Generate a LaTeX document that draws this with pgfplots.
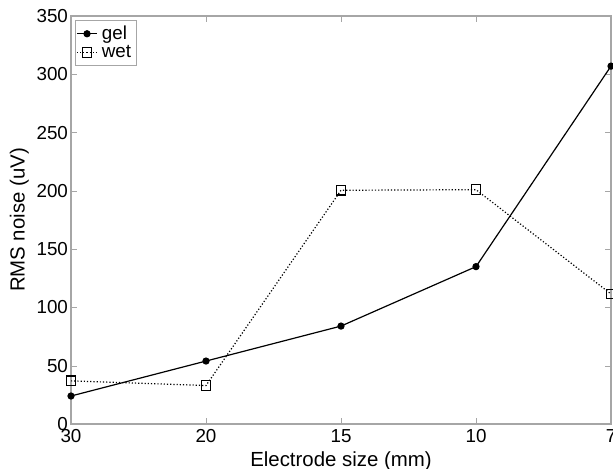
\documentclass[border=0pt]{standalone}
\usepackage{pgfplots}
\pgfplotsset{compat=1.18}
\usepackage{fontspec}
\setmainfont{Liberation Sans}
\begin{document}
\begin{tikzpicture}
\begin{axis}[
  scale only axis,
  width=270pt, height=204pt,
  xmin=0, xmax=4, ymin=0, ymax=350,
  xtick={0,1,2,3,4}, xticklabels={30,20,15,10,7},
  ytick={0,50,...,350},
  tick align=inside,
  major tick length=3pt,
  axis line style={gray!70, line width=0.6pt},
  tick style={gray!70},
  /pgf/number format/assume math mode=true,
  tick label style={font=\fontsize{9.4}{10}\selectfont},
  label style={font=\fontsize{10.2}{11}\selectfont},
  xlabel={Electrode size (mm)},
  ylabel={RMS noise (uV)},
  xlabel style={yshift=2pt},
  ylabel style={yshift=-3pt},
  xticklabel style={yshift=1pt},
  yticklabel style={xshift=2pt},
  legend style={at={(0.007,0.99)}, anchor=north west, draw=gray!70,
    font=\fontsize{9.4}{10}\selectfont, inner sep=0.5pt, row sep=-2.5pt,
    legend cell align=left},
  legend image code/.code={\draw[mark repeat=2,mark phase=2] plot coordinates {(0cm,0cm) (0.18cm,0cm) (0.36cm,0cm)};},
]
\addplot[black, line width=0.6pt, mark=*, mark size=1.5pt] coordinates {
 (0,24) (1,54) (2,84) (3,135) (4,307)};
\addlegendentry{gel}
\addplot[black, line width=0.6pt, densely dotted, mark=square, mark size=2.4pt, mark options={solid}] coordinates {
 (0,37) (1,33) (2,200.5) (3,201) (4,111.5)};
\addlegendentry{wet}
\end{axis}
\pgfresetboundingbox
\path[use as bounding box] (-35.5pt,-22.5pt) rectangle (271pt,212pt);
\end{tikzpicture}
\end{document}
